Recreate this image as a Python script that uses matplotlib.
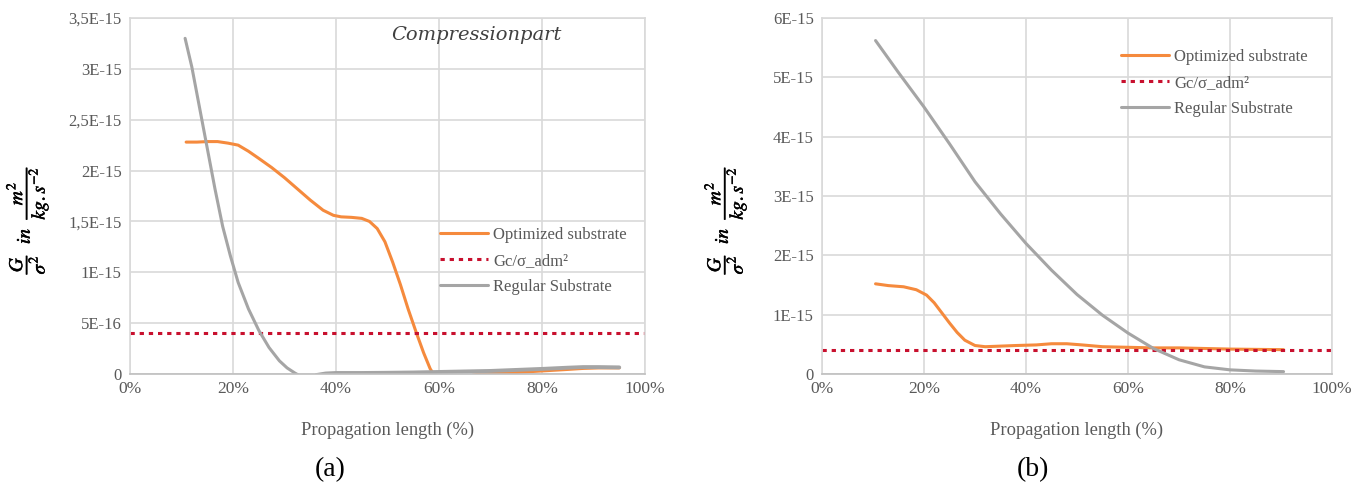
import matplotlib.pyplot as plt
import matplotlib.patheffects as pe
from matplotlib.ticker import FixedLocator, FuncFormatter

plt.rcParams['font.family'] = ['Liberation Serif', 'DejaVu Serif']
plt.rcParams['mathtext.fontset'] = 'stix'

# ---- (a) compression part ----
a_reg_x1 = [10.7, 12, 13.5, 15, 16.5, 18, 19.5, 21, 23, 25, 27, 29, 30.5, 32, 32.7]
a_reg_y1 = [3.30, 3.02, 2.62, 2.22, 1.82, 1.45, 1.16, 0.90, 0.64, 0.43, 0.26, 0.13, 0.06, 0.01, -0.01]
a_reg_x2 = [36.2, 38, 40, 45, 50, 55, 60, 65, 70, 75, 80, 85, 88, 91, 95]
a_reg_y2 = [-0.01, 0.005, 0.01, 0.01, 0.012, 0.015, 0.02, 0.025, 0.03, 0.04, 0.05, 0.062, 0.068, 0.068, 0.065]
a_opt_x1 = [10.9, 13, 15, 17, 19, 21, 23, 25, 27.5, 30, 32.5, 35, 37.5, 39.5, 41, 43, 45, 46.5, 48, 49.5,
            51, 52.5, 54, 55.5, 57, 58.3, 59.2]
a_opt_y1 = [2.28, 2.28, 2.285, 2.285, 2.27, 2.25, 2.19, 2.12, 2.03, 1.93, 1.82, 1.71, 1.61, 1.56, 1.545, 1.54,
            1.53, 1.5, 1.43, 1.3, 1.1, 0.88, 0.64, 0.42, 0.21, 0.05, -0.02]
a_opt_x2 = [66.6, 68, 70, 75, 80, 85, 88, 91, 95]
a_opt_y2 = [-0.01, 0.0, 0.005, 0.015, 0.03, 0.045, 0.055, 0.06, 0.06]

# ---- (b) ----
b_reg_x = [10.5, 15, 20, 25, 30, 35, 40, 45, 50, 55, 60, 65, 70, 75, 80, 85, 90.5]
b_reg_y = [5.62, 5.08, 4.50, 3.88, 3.24, 2.70, 2.20, 1.75, 1.34, 0.99, 0.69, 0.43, 0.24, 0.12, 0.07, 0.05, 0.04]
b_opt_x = [10.5, 13, 16, 18.5, 20.5, 22, 23.5, 25, 26.5, 28, 30, 32, 35, 38, 42, 45, 48, 51, 55, 60, 65,
           70, 75, 80, 85, 90.5]
b_opt_y = [1.52, 1.49, 1.47, 1.42, 1.33, 1.20, 1.03, 0.86, 0.70, 0.57, 0.48, 0.46, 0.47, 0.48, 0.49, 0.51,
           0.51, 0.49, 0.46, 0.45, 0.44, 0.44, 0.43, 0.42, 0.415, 0.41]

limit = 0.4  # Gc/sigma_adm^2, E-15
x_ticks = [0, 20, 40, 60, 80, 100]
a_yticks = [0, 0.5, 1.0, 1.5, 2.0, 2.5, 3.0, 3.5]
a_ylabels = ['0', '5E-16', '1E-15', '1,5E-15', '2E-15', '2,5E-15', '3E-15', '3,5E-15']
b_yticks = [0, 1, 2, 3, 4, 5, 6]
b_ylabels = ['0', '1E-15', '2E-15', '3E-15', '4E-15', '5E-15', '6E-15']

orange = '#F58A3D'
grey = '#A5A5A5'
red = '#C8102E'
txt = '#595959'

fig = plt.figure(figsize=(13.62, 4.96), dpi=100)
ax1 = fig.add_axes([130 / 1362, 1 - 374 / 496, 515 / 1362, 356 / 496])
ax2 = fig.add_axes([822 / 1362, 1 - 374 / 496, 510 / 1362, 356 / 496])


def style(ax, yticks, ylabels, ymax, lab_x):
    ax.set_xlim(0, 100)
    ax.set_ylim(0, ymax)
    ax.xaxis.set_major_locator(FixedLocator(x_ticks))
    ax.xaxis.set_major_formatter(FuncFormatter(lambda v, p: f'{v:.0f}%'))
    ax.set_yticks(yticks)
    ax.set_yticklabels(ylabels)
    ax.tick_params(length=0, labelsize=12, labelcolor=txt, pad=6)
    ax.tick_params(axis='x', labelsize=12.5, pad=5)
    ax.grid(True, color='#d9d9d9', linewidth=1.2)
    ax.set_axisbelow(True)
    for s in ax.spines.values():
        s.set_color('#d9d9d9')
        s.set_linewidth(1.2)
    ax.spines['bottom'].set_color('#bfbfbf')
    ax.set_xlabel('Propagation length (%)', fontsize=13.3, color=txt, labelpad=18)
    ax.set_ylabel(r'$\dfrac{G}{\sigma^2}\ \ in\ \ \dfrac{m^2}{kg.s^{-2}}$', fontsize=14, color='black',
                  va='center', path_effects=[pe.withStroke(linewidth=0.35, foreground='black')])
    ax.yaxis.set_label_coords(lab_x, 0.433)


lw = 2.2
style(ax1, a_yticks, a_ylabels, 3.5, -0.2)
ax1.plot(a_opt_x1, a_opt_y1, color=orange, lw=lw, label='Optimized substrate', solid_capstyle='round')
ax1.plot(a_opt_x2, a_opt_y2, color=orange, lw=lw, solid_capstyle='round')
ax1.axhline(limit, color=red, lw=2.2, ls=(0, (1.4, 1.6)), label='Gc/σ_adm²')
ax1.plot(a_reg_x1, a_reg_y1, color=grey, lw=lw, label='Regular Substrate', solid_capstyle='round')
ax1.plot(a_reg_x2, a_reg_y2, color=grey, lw=lw + 0.6, solid_capstyle='round')
ax1.text(0.672, 0.952, 'Compressionpart', transform=ax1.transAxes, ha='center', va='center',
         fontsize=14, style='italic', color='#404040', family=['DejaVu Serif'])
ax1.legend(loc='upper left', bbox_to_anchor=(0.572, 0.455), frameon=False, fontsize=12,
           handlelength=2.9, handletextpad=0.3, labelspacing=0.6, labelcolor=txt)

style(ax2, b_yticks, b_ylabels, 6, -0.19)
ax2.plot(b_opt_x, b_opt_y, color=orange, lw=lw, label='Optimized substrate', solid_capstyle='round')
ax2.axhline(limit, color=red, lw=2.2, ls=(0, (1.4, 1.6)), label='Gc/σ_adm²')
ax2.plot(b_reg_x, b_reg_y, color=grey, lw=lw, label='Regular Substrate', solid_capstyle='round')
ax2.legend(loc='upper left', bbox_to_anchor=(0.556, 0.955), frameon=False, fontsize=12,
           handlelength=2.9, handletextpad=0.3, labelspacing=0.6, labelcolor=txt)

fig.text(330 / 1362, 1 - 470 / 496, '(a)', ha='center', va='center', fontsize=20)
fig.text(1033 / 1362, 1 - 470 / 496, '(b)', ha='center', va='center', fontsize=20)

fig.savefig('out.png', dpi=100)
